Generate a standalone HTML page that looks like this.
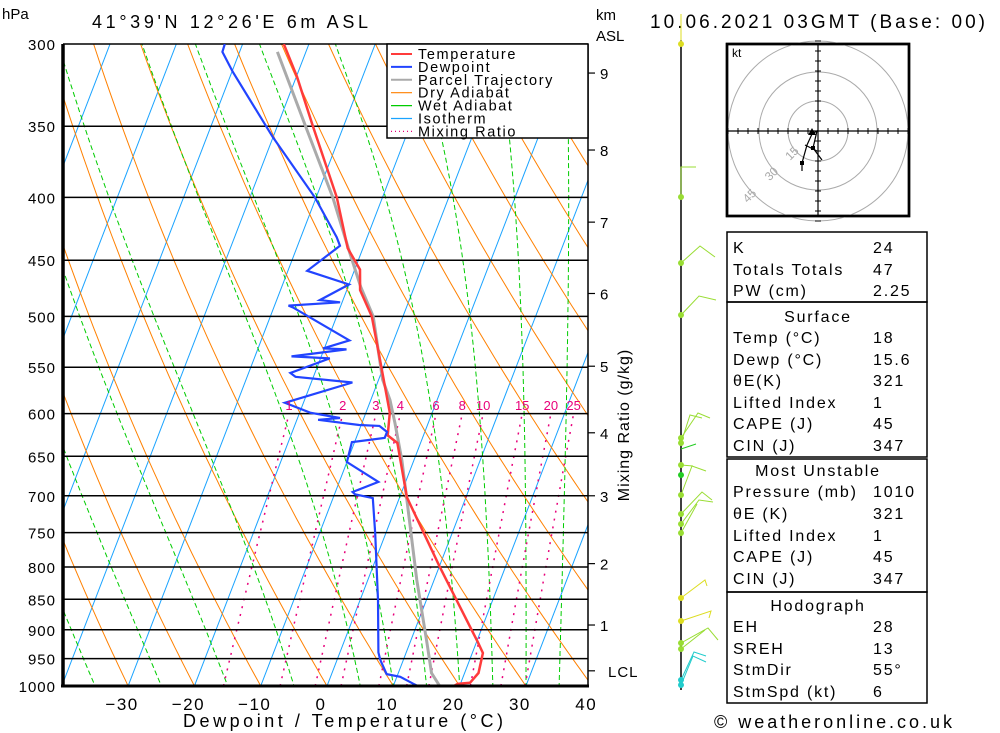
<!DOCTYPE html>
<html><head><meta charset="utf-8"><style>
body{margin:0;background:#fff;}
svg{display:block;font-family:"Liberation Sans",sans-serif;}
</style></head><body>
<svg id="chart" width="1000" height="733" viewBox="0 0 1000 733">
<defs><clipPath id="pc"><rect x="63" y="44" width="525" height="642"/></clipPath></defs>
<g id="bg" clip-path="url(#pc)"></g>
<g id="plines"></g>
<g id="series" clip-path="url(#pc)"></g>
<g id="axes"></g>
<text x="2" y="19" font-size="15">hPa</text>
<text x="92" y="28" font-size="18" textLength="276" lengthAdjust="spacing">41°39'N  12°26'E  6m  ASL</text>
<text x="596" y="20" font-size="15">km</text>
<text x="596" y="41" font-size="15">ASL</text>
<text x="650" y="28" font-size="19" textLength="335" lengthAdjust="spacing">10.06.2021  03GMT  (Base: 00)</text>
<text x="183" y="727" font-size="18" textLength="320" lengthAdjust="spacing">Dewpoint / Temperature (°C)</text>
<text transform="translate(629,425) rotate(-90)" font-size="16" text-anchor="middle" letter-spacing="1">Mixing Ratio (g/kg)</text>
<text x="714" y="728" font-size="18" textLength="238" lengthAdjust="spacing">© weatheronline.co.uk</text>
<g id="legend">
<rect x="387" y="44" width="201" height="94" fill="#fff" stroke="#000" stroke-width="1.5"/>
</g>
<g id="barbs"></g>
<g id="hodo"></g>
<g id="table"></g>
</svg>
<script>
// ---- data ----
const tempP=[1010,996,994,976,940,921,800,702,634,625,599,549,500,476,458,440,400,349,319,300];
const tempT=[18,19.6,21.4,22.1,21.6,20.2,10.1,1.1,-3.5,-5.4,-6.4,-10.4,-14.7,-18.0,-19.2,-22.3,-26.9,-34.8,-39.9,-43.8];
const dewP=[1010,996,983,978,952,939,851,751,703,698,695,682,657,633,628,621,614,613,607,605,599,588,566,560,556,541,539,532,531,523,492,490,487,485,471,459,438,431,400,357,316,304.5,300];
const dewT=[15.6,12.9,10.5,8.3,6.5,5.8,2.7,-1.6,-4.0,-6.9,-7.4,-4.1,-10.0,-10.4,-5.7,-5.7,-7.2,-10.3,-16.8,-13.6,-18.4,-22.8,-13.8,-22.7,-23.7,-18.6,-24.5,-16.6,-20.2,-16.7,-27.0,-27.9,-20.3,-23.5,-20.0,-27.1,-23.6,-24.6,-30.2,-40.1,-49.9,-52.6,-52.7];
const parcelP=[1010,1000,976,923,820,715,655,611,585,563,500,473,444,400,352.5,304.5];
const parcelT=[18,17.0,15.0,12.6,7.4,1.8,-1.8,-5.0,-7.1,-9.4,-14.5,-18.1,-21.7,-27.5,-35.3,-44.3];
const pressureTicks=[300,350,400,450,500,550,600,650,700,750,800,850,900,950,1000];
const tempTicks=[-30,-20,-10,0,10,20,30,40];
const kmLabels=["9","8","7","6","5","4","3","2","1","LCL"];
const kmP=[316.8,366,419,479,549,622,700,795,892,972];
const mixW=[1,2,3,4,6,8,10,15,20,25];
const moistT0=[-45,-35,-25,-15,-5,5,10,15,20,25,30,35];

const NS="http://www.w3.org/2000/svg";
function yP(p){return 44+533.2*Math.log(p/300);}
function xT(T,p){return 327+6.63*T+0.385*(686-yP(p));}
function mk(tag,attrs,parent){const e=document.createElementNS(NS,tag);for(const k in attrs)e.setAttribute(k,attrs[k]);parent.appendChild(e);return e;}
const bg=document.getElementById('bg');
function poly(pts,attrs,parent,name){const e=mk('polyline',Object.assign({points:pts.map(a=>a[0].toFixed(1)+','+a[1].toFixed(1)).join(' '),fill:'none'},attrs),parent);


return e;}
for(let T=-130;T<=40;T+=10){
 poly([[xT(T,1050),yP(1050)],[xT(T,290),yP(290)]],{stroke:'#1aa3ff','stroke-width':1},bg,'isotherm');
}
for(let T0=-40;T0<=200;T0+=10){const th=273.15+T0;const pts=[];
 for(let p=1050;p>=280;p-=10){pts.push([xT(th*Math.pow(p/1000,0.286)-273.15,p),yP(p)]);}
 poly(pts,{stroke:'#ff8000','stroke-width':1},bg,'dry-adiabat');}
function dTdp(T,p){const es=6.112*Math.exp(17.67*(T-273.15)/(T-29.65));const rs=0.622*es/(p-es);
 const num=287*T+2.501e6*rs;const den=1005+(2.501e6*2.501e6*rs*0.622)/(287*T*T);return num/den/p;}
moistT0.forEach(t0=>{let T=t0+273.15;const pts=[];
 let Td=T;for(let p=1000;p<1050;p+=5){Td+=dTdp(Td,p)*5;}
 T=Td;for(let p=1050;p>=280;p-=5){pts.push([xT(T-273.15,p),yP(p)]);T-=dTdp(T,p)*5;}
 poly(pts,{stroke:'#00cc00','stroke-width':1,'stroke-dasharray':'5,3'},bg,'moist-adiabat');});
function tdW(w,p){const e=w*p/(622+w);const l=Math.log(e/6.112);return 243.5*l/(17.67-l);}
const axes=document.getElementById('axes');
mixW.forEach(w=>{const pts=[];for(let p=1000;p>=600;p-=10){pts.push([xT(tdW(w,p),p)+10,yP(p)]);}
 poly(pts,{stroke:'#e8007a','stroke-width':1.5,'stroke-dasharray':'2,6'},bg,'mixing-ratio-line');
 const t=mk('text',{x:(xT(tdW(w,600),600)+10).toFixed(1),y:410,'font-size':13,fill:'#e8007a','text-anchor':'middle'},axes);
 t.textContent=w;
 
 });
const pl=document.getElementById('plines');
pressureTicks.forEach(p=>{const y=yP(p);
 const l=mk('line',{x1:63,x2:588,y1:y,y2:y,stroke:'#000','stroke-width':1.5},pl);
 
 
 const t=mk('text',{x:56,y:y+6,'font-size':15,'text-anchor':'end','letter-spacing':1},axes);t.textContent=p;
 
 });
mk('line',{x1:63,x2:63,y1:44,y2:687,stroke:'#000','stroke-width':3.5},axes);
mk('line',{x1:61,x2:589,y1:686,y2:686,stroke:'#000','stroke-width':3},axes);
mk('line',{x1:588,x2:588,y1:44,y2:687,stroke:'#000','stroke-width':1.5},axes);
tempTicks.forEach(T=>{const t=mk('text',{x:327+6.63*T-6,y:710,'font-size':17,'text-anchor':'middle','letter-spacing':1.5},axes);
 t.textContent=T<0?'\u2212'+(-T):T;
 
 });
kmLabels.forEach((k,i)=>{const y=yP(kmP[i]);
 mk('line',{x1:588,x2:595,y1:y,y2:y,stroke:'#000','stroke-width':1.2},axes);
 const t=mk('text',{x:k==='LCL'?608:600,y:y+6,'font-size':15,'letter-spacing':1},axes);t.textContent=k;
 
 });
const se=document.getElementById('series');
poly(parcelP.map((p,i)=>[xT(parcelT[i],p),yP(p)]),{stroke:'#aaaaaa','stroke-width':3},se,'parcel-trajectory-line');
poly(tempP.map((p,i)=>[xT(tempT[i],p),yP(p)]),{stroke:'#ff3b3b','stroke-width':2.5},se,'temperature-line');
poly(dewP.map((p,i)=>[xT(dewT[i],p),yP(p)]),{stroke:'#2244ff','stroke-width':2.2},se,'dewpoint-line');
const lg=document.getElementById('legend');
const leg=[['Temperature','#ff3b3b',''],['Dewpoint','#2244ff',''],['Parcel Trajectory','#aaaaaa',''],['Dry Adiabat','#ff8000',''],['Wet Adiabat','#00cc00',''],['Isotherm','#1aa3ff',''],['Mixing Ratio','#e8007a','1,3']];
leg.forEach((e,i)=>{const y=54+i*12.9;
 const l=mk('line',{x1:391,x2:412,y1:y,y2:y,stroke:e[1],'stroke-width':(i<3?2:1.2),'stroke-dasharray':e[2]},lg);
 
 
 const t=mk('text',{x:418,y:y+5,'font-size':14.5,'letter-spacing':1.6},lg);t.textContent=e[0];
 
 });
const bb=document.getElementById('barbs');
mk('line',{x1:681,x2:681,y1:40,y2:690,stroke:'#000','stroke-width':1.5},bb);
mk('polyline',{points:'681,197 681,167 696,167',fill:'none',stroke:'#99dd33','stroke-width':1},bb);
const barbs=[[44,'#dddd22',[[681,44],[681,14]]],[197,'#99dd33',null],[263,'#99dd33',[[681,263],[700,246],[715,257]]],[315,'#99dd33',[[681,315],[699,296],[716,300]]],
[438,'#99dd33',[[681,438],[698,413],[710,418]]],[443,'#99dd33',[[681,443],[690,415],[702,418]]],[465,'#99dd33',[[681,465],[693,466]]],[475,'#22cc22',[[681,449],[696,444]]],
[495,'#99dd33',[[681,495],[692,466],[706,471]]],[514,'#99dd33',[[681,514],[702,492],[712,500]]],[524,'#99dd33',[[681,524],[699,500],[713,502]]],[533,'#99dd33',[[681,533],[697,504]]],
[598,'#dddd22',[[681,598],[705,580],[707,586]]],[621,'#dddd22',[[681,621],[711,611],[709,618]]],[643,'#99dd33',[[681,643],[708,628],[718,640]]],[649,'#99dd33',[[681,649],[705,630]]],
[680,'#22cccc',[[681,680],[694,652],[706,656]]],[685,'#22cccc',[[681,685],[693,656],[706,662]]]];
barbs.forEach(b=>{if(b[2])poly(b[2],{stroke:b[1],'stroke-width':1},bb,'wind-barb');
 const c=mk('circle',{cx:681,cy:b[0],r:3,fill:b[1]},bb);
 
 });
const hg=document.getElementById('hodo');const cx=818,cy=131;
mk('rect',{x:727,y:44,width:182,height:172,fill:'#fff',stroke:'#000','stroke-width':2.5},hg);
[30,59,90].forEach(r=>mk('circle',{cx:cx,cy:cy,r:r,fill:'none',stroke:'#aaa','stroke-width':1},hg));
mk('rect',{x:727,y:44,width:182,height:172,fill:'none',stroke:'#000','stroke-width':2.5},hg);
mk('line',{x1:727,x2:909,y1:cy,y2:cy,stroke:'#000','stroke-width':1.2},hg);
mk('line',{x1:cx,x2:cx,y1:44,y2:216,stroke:'#000','stroke-width':1.2},hg);
for(let d=-90;d<=90;d+=10){if(!d)continue;mk('line',{x1:cx+d,x2:cx+d,y1:cy-3,y2:cy+3,stroke:'#000'},hg);mk('line',{x1:cx-3,x2:cx+3,y1:cy+d,y2:cy+d,stroke:'#000'},hg);}
let ht=mk('text',{x:732,y:57,'font-size':12},hg);ht.textContent='kt';
[['15',30],['30',59],['45',90]].forEach(a=>{const an=Math.PI*0.75;const t=mk('text',{transform:`translate(${cx+a[1]*Math.cos(an)-2},${cy+a[1]*Math.sin(an)+4}) rotate(-45)`,'font-size':12,fill:'#aaa','text-anchor':'middle'},hg);t.textContent=a[0];});
mk('polyline',{points:'802,171 802,163 807,145 812,134 817,131 813,148 822,160',fill:'none',stroke:'#000','stroke-width':1.2},hg);
mk('polyline',{points:'805,145 817,151',fill:'none',stroke:'#000','stroke-width':1.2},hg);
mk('polygon',{points:'812,128 808,135 816,135',fill:'#000'},hg);
mk('rect',{x:811,y:146,width:4,height:4,fill:'#000'},hg);
mk('rect',{x:800,y:161,width:4,height:4,fill:'#000'},hg);
const tb=document.getElementById('table');
[[232,302],[302,457],[459,592],[592,703]].forEach(b=>mk('rect',{x:727,y:b[0],width:200,height:b[1]-b[0],fill:'none',stroke:'#000','stroke-width':1.5},tb));
const rows=[[253,'K','24'],[275,'Totals Totals','47'],[296,'PW (cm)','2.25'],[322,'Surface',null],[343,'Temp (°C)','18'],[365,'Dewp (°C)','15.6'],[386,'θE(K)','321'],[408,'Lifted Index','1'],[429,'CAPE (J)','45'],[451,'CIN (J)','347'],
[476,'Most Unstable',null],[497,'Pressure (mb)','1010'],[519,'θE (K)','321'],[541,'Lifted Index','1'],[562,'CAPE (J)','45'],[584,'CIN (J)','347'],[611,'Hodograph',null],[632,'EH','28'],[654,'SREH','13'],[675,'StmDir','55°'],[697,'StmSpd (kt)','6']];
rows.forEach(r=>{const t=mk('text',{x:r[2]===null?818:733,y:r[0],'font-size':16,'letter-spacing':1.8,'text-anchor':r[2]===null?'middle':'start'},tb);t.textContent=r[1];
 
 
 if(r[2]!==null){const v=mk('text',{x:873,y:r[0],'font-size':16,'letter-spacing':1.8},tb);v.textContent=r[2];
 
 }});
</script>
</body></html>
